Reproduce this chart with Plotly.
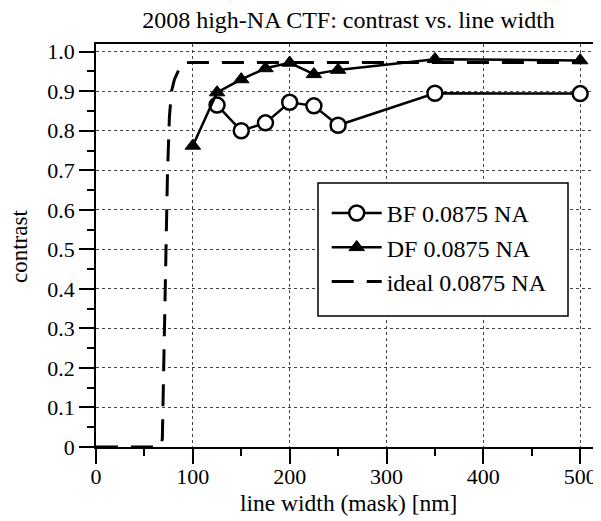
import plotly.graph_objects as go

# ---- data ----
bf_x = [125, 150, 175, 200, 225, 250, 350, 500]
bf_y = [0.865, 0.800, 0.820, 0.872, 0.863, 0.814, 0.895, 0.894]

df_x = [100, 125, 150, 175, 200, 225, 250, 350, 500]
df_y = [0.762, 0.897, 0.930, 0.958, 0.972, 0.943, 0.954, 0.981, 0.978]

ideal_x = [0, 66, 68.5, 71.5, 73.8, 75.8, 78, 81, 84, 87, 90, 100, 500]
ideal_y = [0, 0, 0.02, 0.44, 0.69, 0.835, 0.90, 0.93, 0.945, 0.962, 0.972, 0.973, 0.973]

x_ticks = [0, 100, 200, 300, 400, 500]
x_tick_text = ["0", "100", "200", "300", "400", "500"]
y_ticks = [0, 0.1, 0.2, 0.3, 0.4, 0.5, 0.6, 0.7, 0.8, 0.9, 1.0]
y_tick_text = ["0", "0.1", "0.2", "0.3", "0.4", "0.5", "0.6", "0.7", "0.8", "0.9", "1.0"]

FONT = "Liberation Serif, Times New Roman, serif"

# The page body has an 8px default margin, so the figure is drawn 8px
# right/down of the window origin; size it so it ends at the window edge.
OFF = 8
W, H = 601 - OFF, 521 - OFF
L, R, T, B = 96 - OFF, 0, 44 - OFF, 521 - 447
PW, PH = W - L - R, H - T - B


def px_x(p):
    """screen x -> paper x"""
    return (p - OFF - L) / PW


def px_y(p):
    """screen y -> paper y"""
    return (H - B - (p - OFF)) / PH


fig = go.Figure()

fig.add_trace(go.Scatter(
    x=ideal_x, y=ideal_y, mode="lines", name="ideal 0.0875 NA",
    line=dict(color="black", width=3, dash="22px,13px"),
    legendrank=3, legendgroup="c",
))
fig.add_trace(go.Scatter(
    x=bf_x, y=bf_y, mode="lines+markers", name="BF 0.0875 NA",
    line=dict(color="black", width=2.5),
    marker=dict(symbol="circle", size=15, color="white",
                line=dict(color="black", width=2.5)),
    legendrank=1, legendgroup="a",
))
fig.add_trace(go.Scatter(
    x=df_x, y=df_y, mode="lines+markers", name="DF 0.0875 NA",
    line=dict(color="black", width=2.5),
    marker=dict(symbol="triangle-up", size=13.5, color="black",
                line=dict(color="black", width=1)),
    legendrank=2, legendgroup="b",
))

axis_common = dict(
    showline=True, linecolor="black", linewidth=1.5,
    ticks="outside", ticklen=15, tickwidth=1.5, tickcolor="black",
    showgrid=True, gridcolor="#444444", gridwidth=1, griddash="dot",
    zeroline=False,
    tickfont=dict(family=FONT, size=22, color="black"),
    automargin=False,
)

# legend frame
fig.add_shape(type="rect", xref="paper", yref="paper",
              x0=px_x(318), x1=px_x(568), y0=px_y(316), y1=px_y(183),
              line=dict(color="black", width=1.5), fillcolor="white",
              layer="above")

# axis titles
fig.add_annotation(text="line width (mask) [nm]", xref="paper", yref="paper",
                   x=px_x(348.5), y=px_y(503), xanchor="center", yanchor="middle",
                   showarrow=False,
                   font=dict(family=FONT, size=23.5, color="black"))
fig.add_annotation(text="contrast", xref="paper", yref="paper",
                   x=px_x(19), y=px_y(247), xanchor="center", yanchor="middle",
                   textangle=-90, showarrow=False,
                   font=dict(family=FONT, size=23, color="black"))

fig.update_layout(
    width=W, height=H,
    margin=dict(l=L, r=R, t=T, b=B),
    paper_bgcolor="white", plot_bgcolor="white",
    font=dict(family=FONT, size=22, color="black"),
    title=dict(text="2008 high-NA CTF: contrast vs. line width",
               x=0.5, xref="paper", xanchor="center",
               y=1 - (20 - OFF) / H, yref="container", yanchor="middle",
               font=dict(family=FONT, size=24, color="black")),
    xaxis=dict(
        range=[0, 521.5], tickvals=x_ticks, ticktext=x_tick_text,
        mirror=True, ticklabelstandoff=-6,
        minor=dict(dtick=50, tick0=0, ticks="outside", ticklen=7,
                   tickwidth=1.5, tickcolor="black", showgrid=False),
        **axis_common,
    ),
    yaxis=dict(
        range=[0, 1.0195], tickvals=y_ticks, ticktext=y_tick_text,
        minor=dict(dtick=0.05, tick0=0, ticks="outside", ticklen=7,
                   tickwidth=1.5, tickcolor="black", showgrid=False),
        **axis_common,
    ),
    legend=dict(
        x=px_x(326.7), y=px_y(190.9), xanchor="left", yanchor="top",
        bgcolor="rgba(0,0,0,0)", borderwidth=0,
        font=dict(family=FONT, size=24, color="black"),
        tracegroupgap=4, itemwidth=50, traceorder="normal",
    ),
    showlegend=True,
)

fig.write_html("out.html")
